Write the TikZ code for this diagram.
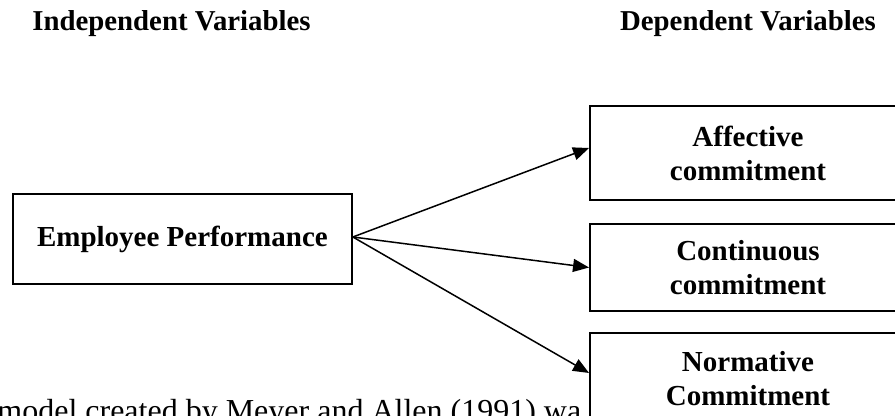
\documentclass[tikz,border=0pt]{standalone}
\usepackage{fontspec}
\setmainfont{Liberation Serif}
\usetikzlibrary{arrows.meta}
\tikzset{
  head/.style={font=\bfseries\fontsize{14.4pt}{17pt}\selectfont, inner sep=0pt},
  varbox/.style={draw, line width=0.95pt, fill=white, align=center, inner sep=0pt,
    font=\bfseries\fontsize{14.5pt}{17pt}\selectfont},
  link/.style={line width=0.75pt, -{Triangle[length=8pt,width=6.5pt]}},
  body/.style={font=\fontsize{16pt}{19pt}\selectfont, inner sep=0pt}
}
\begin{document}
\begin{tikzpicture}[x=0.5pt,y=-0.5pt]
\useasboundingbox (0,0) rectangle (895,416);
\clip (0,0) rectangle (895,416);
\node[head, anchor=base west] (indep) at (32,31) {Independent Variables};
\node[head, anchor=base] (dep) at (748,31) {Dependent Variables};
\node[body, anchor=base west] (note) at (-3,422) {model created by Meyer and Allen (1991) wa};
\node[varbox, minimum width=169.5pt, minimum height=45pt] (emp) at (182.4,239) {Employee Performance};
\node[varbox, minimum width=158pt, minimum height=47pt] (aff) at (748,153) {Affective\\commitment};
\node[varbox, minimum width=158pt, minimum height=43.5pt] (cont) at (748,267.5) {Continuous\\commitment};
\node[varbox, minimum width=158pt, minimum height=46pt] (norm) at (748,379) {Normative\\Commitment};
\draw[link] ([yshift=1pt]emp.east) -- ([yshift=2.5pt]aff.west);
\draw[link] ([yshift=1pt]emp.east) -- (cont.west);
\draw[link] ([yshift=1pt]emp.east) -- ([yshift=3pt]norm.west);
\end{tikzpicture}
\end{document}
